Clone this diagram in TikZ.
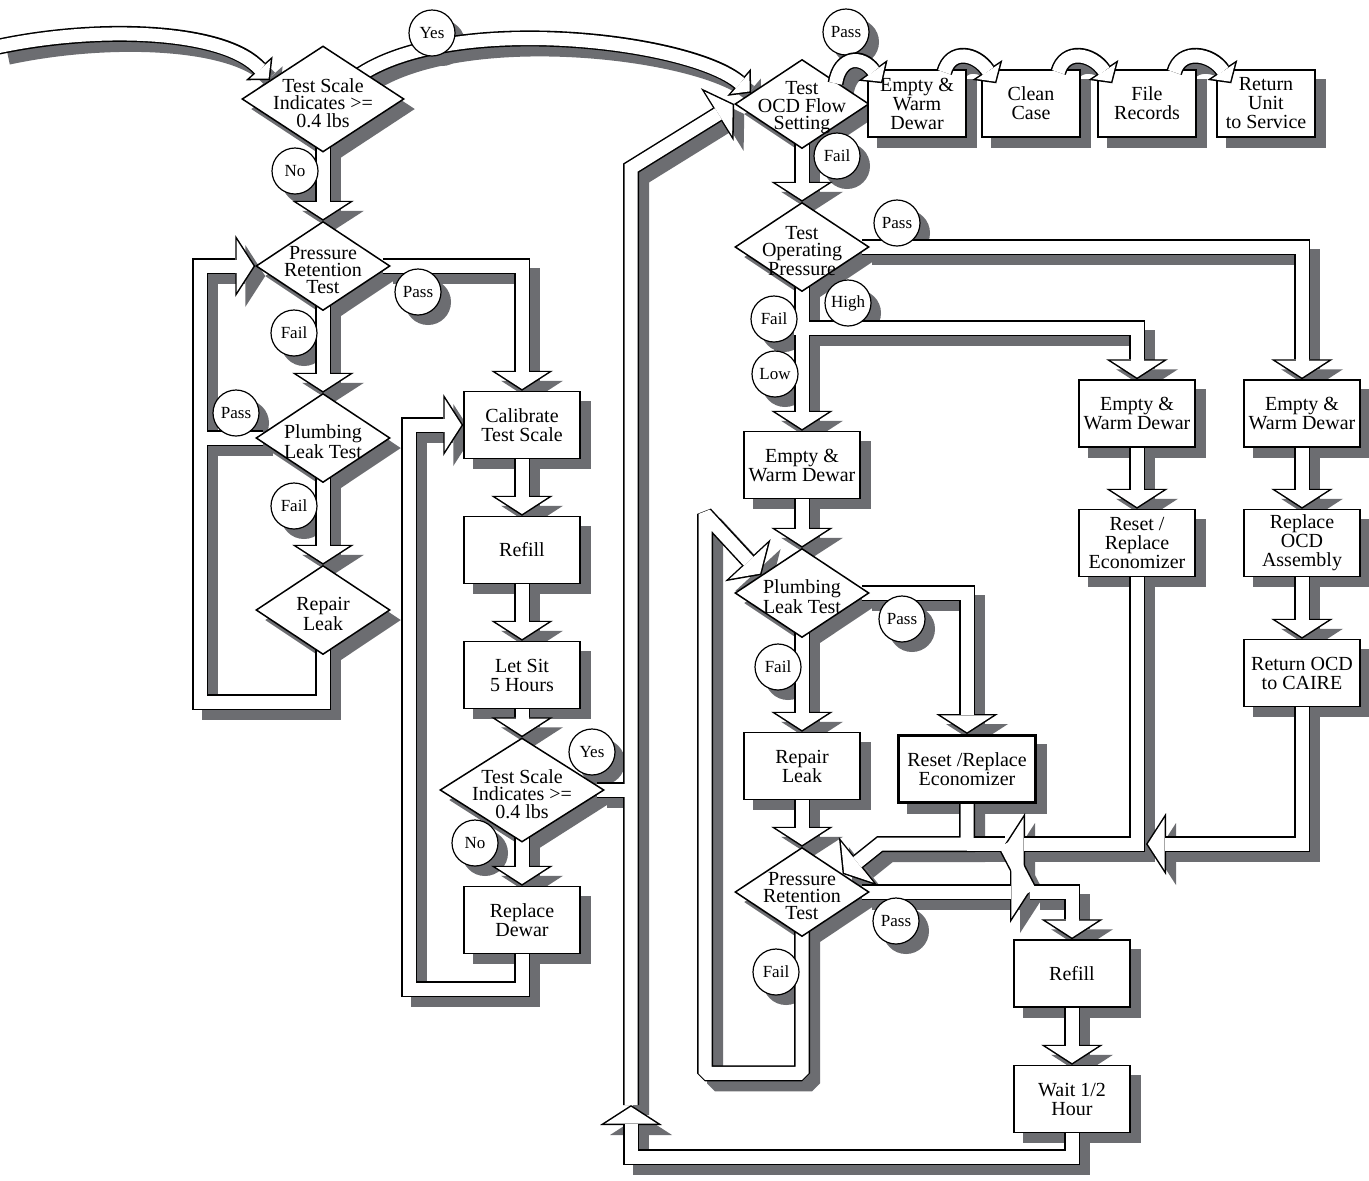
\documentclass[tikz,border=0pt]{standalone}
\usepackage{fontspec}
\setmainfont{Liberation Serif}
\usetikzlibrary{shapes.geometric,arrows.meta,calc}

\definecolor{shadowgray}{RGB}{108,109,113}

\pgfdeclarelayer{shadow}
\pgfdeclarelayer{blk}
\pgfdeclarelayer{wht}
\pgfdeclarelayer{over}
\pgfsetlayers{shadow,blk,wht,main,over}

\tikzset{
  proc/.style={draw, fill=white, line width=0.75pt, inner sep=1pt,
    minimum width=58pt, minimum height=33.5pt, align=center,
    font=\fontsize{10}{9.5}\selectfont},
  decision/.style={shape=diamond, draw, fill=white, line width=0.75pt,
    inner sep=0pt, minimum width=67pt, minimum height=44.5pt,
    label={[dtext]center:#1}},
  dtext/.style={align=center, inner sep=0pt, yshift=-2pt,
    font=\fontsize{10}{8.7}\selectfont},
  answer/.style={circle, draw, fill=white, line width=0.6pt, minimum size=23pt,
    inner sep=0pt, font=\fontsize{8.5}{9}\selectfont},
  flowshadow/.style={draw=shadowgray, line width=8pt, shorten <=-4pt,
    transform canvas={xshift=5pt, yshift=-5pt}},
  flowblack/.style={draw=black, line width=8pt, shorten <=-4pt},
  flowwhite/.style={draw=white, line width=6.5pt, shorten <=-4pt},
  big outer/.style={-{Triangle[length=10pt, width=31pt, line width=0pt]}},
  big inner/.style={-{Triangle[length=8.4pt, width=26pt, line width=0pt]}, shorten >=0.9pt},
  small outer/.style={-{Triangle[length=8pt, width=18pt, line width=0pt]}},
  small inner/.style={-{Triangle[length=6.25pt, width=14pt, line width=0pt]}, shorten >=1pt},
  none outer/.style={},
  none inner/.style={}
}

\NewDocumentCommand\flowband{O{none} O{} m}{%
  \begin{pgfonlayer}{shadow}\draw[flowshadow,#1 outer,#2] #3;\end{pgfonlayer}%
  \begin{pgfonlayer}{blk}\draw[flowblack,#1 outer,#2] #3;\end{pgfonlayer}%
  \begin{pgfonlayer}{wht}\draw[flowwhite,#1 inner,#2] #3;\end{pgfonlayer}}

\newcommand\arcband[1]{%
  \begin{pgfonlayer}{shadow}\draw[flowshadow,small outer,shorten <=-1pt] #1;\end{pgfonlayer}%
  \begin{pgfonlayer}{over}
    \draw[flowblack,small outer,shorten <=-1pt] #1;
    \draw[flowwhite,small inner,shorten <=-1pt] #1;
  \end{pgfonlayer}}

\begin{document}
\begin{tikzpicture}[x=0.5pt, y=-0.5pt]
\useasboundingbox (0,0) rectangle (1369,1180);
\begin{pgfonlayer}{shadow}
  \fill[white] (0,0) rectangle (1369,1180);
\end{pgfonlayer}

% left column
\node[decision={Test Scale\\Indicates >=\\0.4 lbs}, minimum width=81pt, minimum height=53pt] (scaleA) at (323,99) {};
\node[decision={Pressure\\Retention\\Test}] (presA) at (323,266) {};
\node[decision={Plumbing\\Leak Test}] (plumbA) at (323,438) {};
\node[decision={Repair\\Leak}] (repairA) at (323,610) {};

% middle column
\node[proc] (calib) at (522,425) {Calibrate\\Test Scale};
\node[proc] (refillA) at (522,550) {Refill};
\node[proc] (letsit) at (522,675) {Let Sit\\5 Hours};
\node[decision={Test Scale\\Indicates >=\\0.4 lbs}, minimum width=82pt, minimum height=52pt] (scaleB) at (522,790) {};
\node[proc] (dewar) at (522,920) {Replace\\Dewar};

% right part
\node[decision={Test\\OCD Flow\\Setting}] (ocd) at (802,104) {};
\node[proc, minimum width=49pt] (emptyA) at (917,103.5) {Empty \&\\Warm\\Dewar};
\node[proc, minimum width=49pt] (clean) at (1031,103.5) {Clean\\Case};
\node[proc, minimum width=49pt] (records) at (1147,103.5) {File\\Records};
\node[proc, minimum width=49pt] (service) at (1266,103.5) {Return\\Unit\\to Service};
\node[decision={Test\\Operating\\Pressure}] (oper) at (802,247) {};
\node[proc] (emptyB) at (802,465) {Empty \&\\Warm Dewar};
\node[decision={Plumbing\\Leak Test}] (plumbB) at (802,593) {};
\node[proc] (repairB) at (802,766) {Repair\\Leak};
\node[decision={Pressure\\Retention\\Test}] (presB) at (802,892) {};
\node[proc, minimum width=68.5pt, line width=1.5pt] (econA) at (967,769) {Reset /Replace\\Economizer};
\node[proc] (emptyC) at (1137,413.5) {Empty \&\\Warm Dewar};
\node[proc] (econB) at (1137,543) {Reset /\\Replace\\Economizer};
\node[proc] (emptyD) at (1302,413.5) {Empty \&\\Warm Dewar};
\node[proc] (ocdnew) at (1302,543) {Replace\\OCD\\Assembly};
\node[proc] (caire) at (1302,673) {Return OCD\\to CAIRE};
\node[proc] (refillB) at (1072,973.5) {Refill};
\node[proc] (wait) at (1072,1099) {Wait 1/2\\Hour};

% answers
\node[answer] (yesA) at (432,33) {Yes};
\node[answer] (noA) at (295,171) {No};
\node[answer] (passA) at (418,292) {Pass};
\node[answer] (failA) at (294,333) {Fail};
\node[answer] (passB) at (236,413) {Pass};
\node[answer] (failB) at (294,506) {Fail};
\node[answer] (yesB) at (592,752) {Yes};
\node[answer] (noB) at (475,843) {No};
\node[answer] (passC) at (846,32) {Pass};
\node[answer] (failC) at (837,156) {Fail};
\node[answer] (passD) at (897,223) {Pass};
\node[answer] (high) at (848,303) {High};
\node[answer] (failD) at (774,319) {Fail};
\node[answer] (low) at (775,374) {Low};
\node[answer] (passE) at (902,619) {Pass};
\node[answer] (failE) at (778,667) {Fail};
\node[answer] (passF) at (896,921) {Pass};
\node[answer] (failF) at (776,972) {Fail};

\coordinate (feed) at (6,45);
\coordinate (loopL) at ($(presA.west)+(-55,0)$);
\coordinate (hiA) at ($(oper.south)+(0,36)$);
\coordinate (loopR) at (705,514);
\coordinate (upA) at (631,1105);
\coordinate (bendY) at (631,168);
\coordinate (bendM) at (880,844);
\coordinate (mergeA) at (1005,844);
\coordinate (mergeB) at (1146,844);
\coordinate (mergeC) at (1030,892);

% shadows of the shapes
\begin{pgfonlayer}{shadow}
\foreach \n in {calib,refillA,letsit,dewar,emptyA,clean,records,service,emptyB,repairB,econA,emptyC,econB,emptyD,ocdnew,caire,refillB,wait}
  \fill[shadowgray] ([shift={(10,10)}]\n.north west) rectangle ([shift={(10,10)}]\n.south east);
\foreach \n in {scaleA,presA,plumbA,repairA,scaleB,ocd,oper,plumbB,presB}
  \fill[shadowgray] ([shift={(10,10)}]\n.north) -- ([shift={(10,10)}]\n.east) -- ([shift={(10,10)}]\n.south) -- ([shift={(10,10)}]\n.west) -- cycle;
\foreach \n in {yesA,noA,passA,failA,passB,failB,yesB,noB,passC,failC,passD,high,failD,low,passE,failE,passF,failF}
  \fill[shadowgray] ([shift={(10,10)}]\n.center) circle (11.5pt);
\end{pgfonlayer}

% left loops
\flowband[small]{(feed) .. controls (100,25) and (225,30) .. ($(scaleA.west)!0.35!(scaleA.north)$)}
\flowband[small]{(scaleA.north east) .. controls (450,12) and (690,40) .. ($(ocd.west)!0.25!(ocd.north)$)}
\flowband[big]{(scaleA.south) -- (presA.north)}
\flowband[big]{(presA.south) -- (plumbA.north)}
\flowband[big]{(plumbA.south) -- (repairA.north)}
\flowband[big]{(repairA.south) -- ++(0,47) -| (loopL) -- (presA.west)}
\flowband{(plumbA.west) -- (plumbA.west -| loopL)}
\flowband[big]{(presA.east) -| (calib.north)}

% middle column
\flowband[big]{(calib.south) -- (refillA.north)}
\flowband[big]{(refillA.south) -- (letsit.north)}
\flowband[big]{(letsit.south) -- (scaleB.north)}
\flowband[big]{(scaleB.south) -- (dewar.north)}
\flowband[big]{(dewar.south) -- ++(0,35) -| ($(calib.west)+(-54,0)$) -- (calib.west)}
\flowband{(scaleB.east) -- (scaleB.east -| upA)}
\flowband[big][shorten <=0pt]{(upA) -- (bendY) -- (ocd.west)}
\flowband[big]{(wait.south) -- ++(0,24) -| (upA)}

% right part
\flowband[big]{(ocd.south) -- (oper.north)}
\flowband[big]{(oper.east) -| (emptyD.north)}
\flowband[big]{(oper.south) -- (emptyB.north)}
\flowband[big]{(hiA) -| (emptyC.north)}
\flowband[big]{(emptyC.south) -- (econB.north)}
\flowband[big]{(emptyD.south) -- (ocdnew.north)}
\flowband[big]{(ocdnew.south) -- (caire.north)}
\flowband[big]{(emptyB.south) -- (plumbB.north)}
\flowband[big]{(plumbB.east) -| (econA.north)}
\flowband[big]{(plumbB.south) -- (repairB.north)}
\flowband[big]{(repairB.south) -- (presB.north)}
\flowband[big][line join=bevel]{(presB.south) -- ++(0,136) -| (loopR) -- ($(plumbB.west)!0.4!(plumbB.north)$)}
\flowband[big]{(econA.south) |- (bendM) -- ($(presB.north)!0.6!(presB.east)$)}
\flowband[none][shorten <=0pt]{(mergeA) -- (mergeA -| econA.south)}
\flowband[big]{(econB.south) |- (mergeA)}
\flowband[big]{(caire.south) |- (mergeB)}
\flowband[none][shorten <=0pt]{(mergeA) -- (mergeC)}
\flowband[big]{(presB.east) -- (mergeC)}
\flowband[big][shorten <=0pt]{(mergeC) -| (refillB.north)}
\flowband[big]{(refillB.south) -- (wait.north)}

% top row
\arcband{(ocd.north east) .. controls +(4,-26) and +(-20,-28) .. ([shift={(15,14)}]emptyA.north west)}
\foreach \a/\b in {emptyA/clean,clean/records,records/service}{
  \arcband{([shift={(-22,1)}]\a.north east) .. controls +(6,-22) and +(-20,-30) .. ([shift={(15,14)}]\b.north west)}
}
\end{tikzpicture}
\end{document}
